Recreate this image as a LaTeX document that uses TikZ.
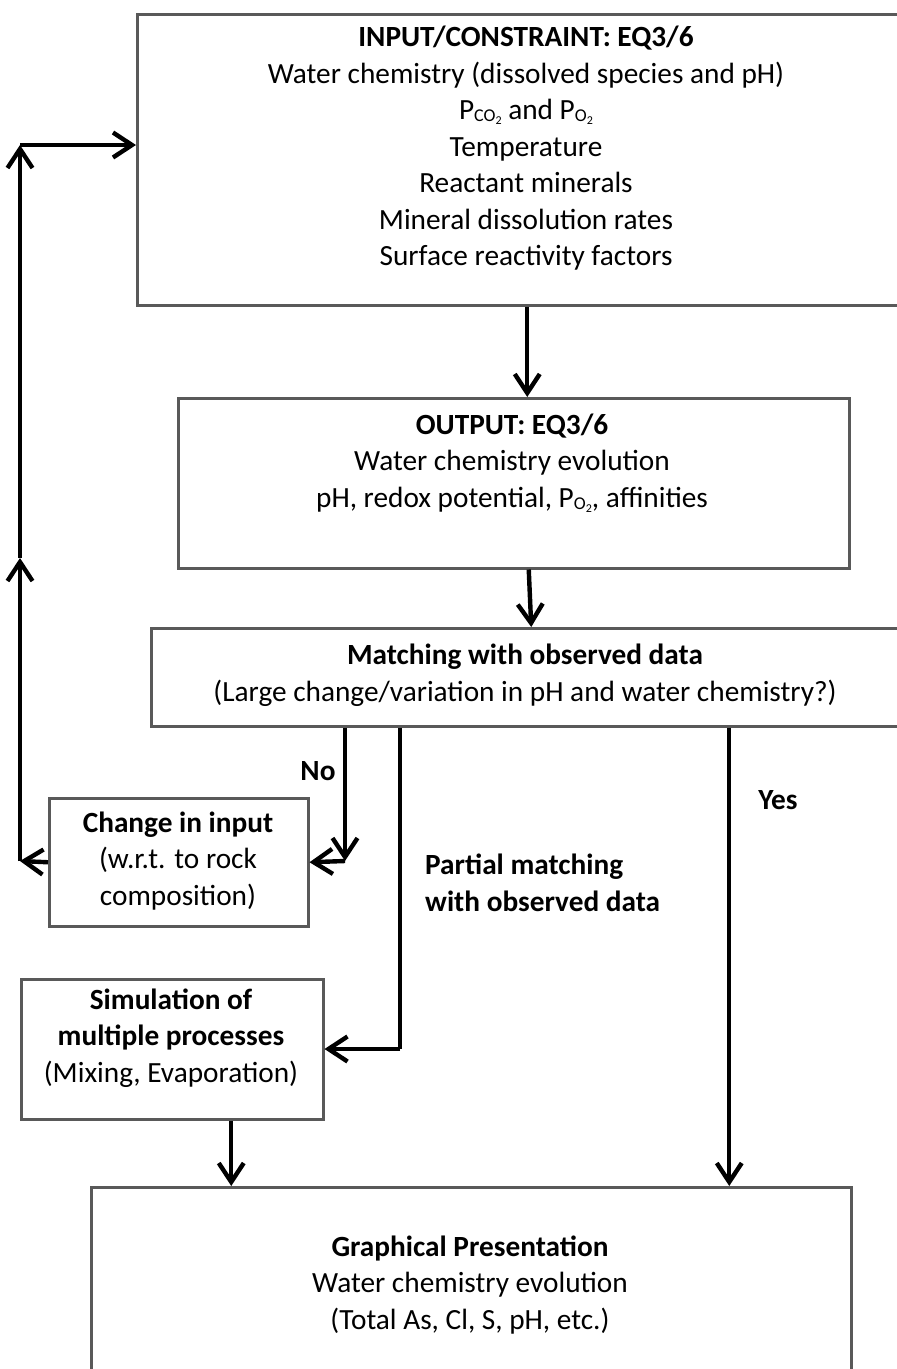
\documentclass[tikz,border=0pt]{standalone}
\usepackage{fontspec}
\setmainfont{Carlito}
\usetikzlibrary{arrows.meta}

\definecolor{boxgray}{HTML}{595959}

% partial pressure P_X2 with small lowered subscript
\newcommand{\gas}[1]{P\smash{\raisebox{-2pt}{\fontsize{18}{18}\selectfont #1\raisebox{-3pt}{\fontsize{12}{12}\selectfont 2}}}}

\tikzset{
    box/.style={draw=boxgray, line width=2.5pt, anchor=north west, inner sep=0pt},
    txt/.style={align=center, inner sep=0pt, font=\fontsize{29.3}{36.5}\selectfont},
    arr/.style={line width=4.4pt, -{Straight Barb[length=19pt, width=25pt]}},
    lbl/.style={inner sep=0pt, font=\fontsize{29.3}{36.5}\selectfont\bfseries}
}

\begin{document}
\begin{tikzpicture}[x=1pt, y=-1pt]

    \useasboundingbox (0,0) rectangle (897,1369);
    \clip (0,0) rectangle (897,1369);

    % boxes
    \node[box, minimum width=780pt, minimum height=291pt] (input) at (136,13) {};
    \node[box, minimum width=671pt, minimum height=170pt] (output) at (177,397) {};
    \node[box, minimum width=750pt, minimum height=98pt] (matching) at (150,627) {};
    \node[box, minimum width=259pt, minimum height=128pt] (change) at (48,797) {};
    \node[box, minimum width=302pt, minimum height=140pt] (simulation) at (20,978) {};
    \node[box, minimum width=760pt, minimum height=220pt] (graphics) at (90,1186) {};

    % box texts
    \node[txt] (inputtext) at (526,148.5) {\textbf{INPUT/CONSTRAINT: EQ3/6}\\
        Water chemistry (dissolved species and pH)\\
        \gas{CO} and \gas{O}\\
        Temperature\\
        Reactant minerals\\
        Mineral dissolution rates\\
        Surface reactivity factors};
    \node[txt] (outputtext) at (512,463) {\textbf{OUTPUT: EQ3/6}\\
        Water chemistry evolution\\
        pH, redox potential, \gas{O}, affinities};
    \node[txt] (matchingtext) at (525,675) {\textbf{Matching with observed data}\\
        (Large change/variation in pH and water chemistry?)};
    \node[txt] (changetext) at (178,861) {\textbf{Change in input}\\
        (w.r.t. to rock\\
        composition)};
    \node[txt] (simulationtext) at (171,1038) {\textbf{Simulation of}\\
        \textbf{multiple processes}\\
        (Mixing, Evaporation)};
    \node[txt] (graphicstext) at (470,1285) {\textbf{Graphical Presentation}\\
        Water chemistry evolution\\
        (Total As, Cl, S, pH, etc.)};

    % bends of the connectors
    \coordinate (nobend) at (345,861);
    \coordinate (partbend) at (400,1049);
    \coordinate (loopb) at (20,861);
    \coordinate (loopm) at (20,558);
    \coordinate (loopt) at (20,145);

    % main line
    \draw[arr] (input.south) -- (input.south |- output.north);
    \draw[arr] ([xshift=15pt]output.south) -- ([xshift=5pt]matching.north);

    % no
    \draw[arr] (matching.south -| nobend) -- (nobend);
    \draw[arr] (nobend) -- (change.east);
    \draw[arr] (change.west) -- (loopb);
    \draw[arr] (loopb) -- (loopm);
    \draw[arr] (loopm) -- (loopt);
    \draw[arr] (loopt) -- (loopt -| input.west);

    % partial matching
    \draw[line width=4.4pt] (matching.south -| partbend) -- (partbend);
    \draw[arr] (partbend) -- (partbend -| simulation.east);
    \draw[arr] ([xshift=59pt]simulation.south) -- ([xshift=59pt]simulation.south |- graphics.north);

    % yes
    \draw[arr] ([xshift=203pt]matching.south) -- ([xshift=258pt]graphics.north);

    % branch labels
    \node[lbl] (nolabel) at (318,771) {No};
    \node[lbl] (yeslabel) at (778,800) {Yes};
    \node[lbl, align=left, anchor=west] (partlabel) at (425,883) {Partial matching\\with observed data};

\end{tikzpicture}
\end{document}
